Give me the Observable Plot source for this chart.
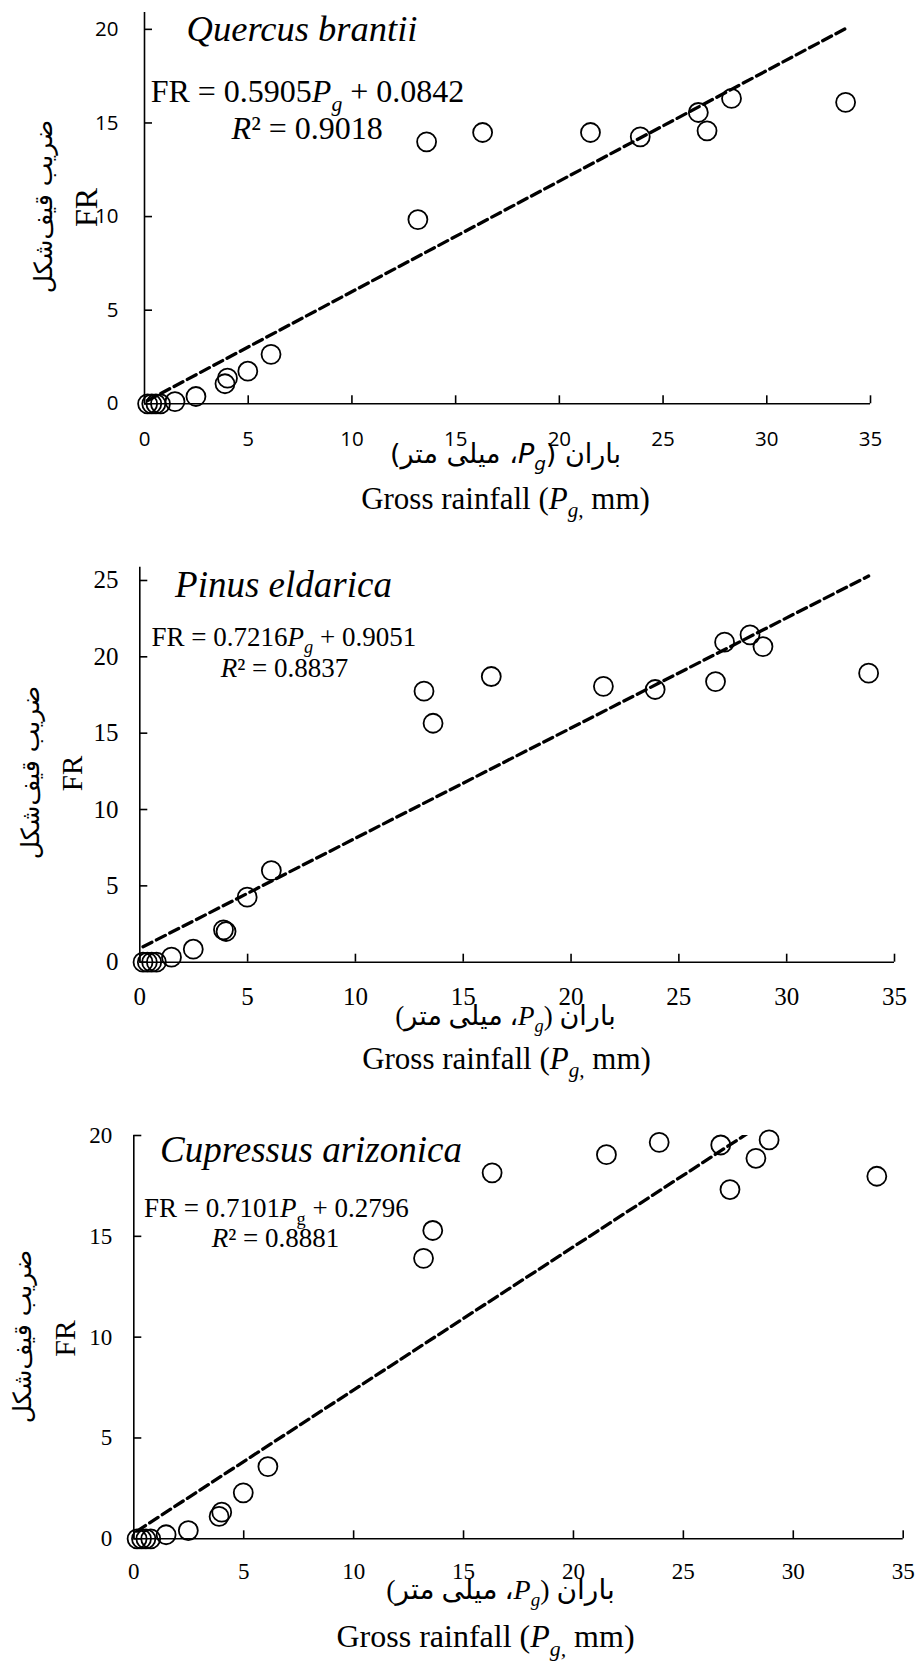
<!DOCTYPE html>
<html><head><meta charset="utf-8">
<script src="https://cdn.jsdelivr.net/npm/d3@7"></script>
<script src="https://cdn.jsdelivr.net/npm/@observablehq/plot@0.6"></script>
<style>
html,body{margin:0;padding:0;background:#fff;}
#wrap{position:relative;width:917px;height:1666px;overflow:hidden;}
#wrap svg{position:absolute;left:0;}
</style></head>
<body><div id="wrap"></div>
<script>
// ---- data ----
const rainfall = [0.15, 0.35, 0.55, 0.77, 1.47, 2.48, 3.88, 4.0, 4.98, 6.1, 13.18, 13.6, 16.3, 21.5, 23.9, 26.7, 27.12, 28.3, 28.9, 33.8];
const quercusFR = [0, 0, 0, 0, 0.12, 0.39, 1.07, 1.37, 1.74, 2.64, 9.84, 13.99, 14.49, 14.49, 14.26, 15.56, 14.58, 16.31, null, 16.1];
const pinusFR = [0, 0, 0, 0, 0.33, 0.85, 2.12, 2.01, 4.26, 6.0, 17.75, 15.65, 18.71, 18.07, 17.86, 18.38, 20.96, 21.44, 20.67, 18.93];
const cupressusFR = [0, 0, 0, 0, 0.2, 0.41, 1.11, 1.32, 2.28, 3.58, 13.91, 15.29, 18.15, 19.05, 19.66, 19.53, 17.32, 18.87, 19.78, 17.98];
const species = ["Quercus brantii", "Pinus eldarica", "Cupressus arizonica"];
const slopes = [0.5905, 0.7216, 0.7101];
const intercepts = [0.0842, 0.9051, 0.2796];
const r2Values = ["0.9018", "0.8837", "0.8881"];
const xTicks = [0, 5, 10, 15, 20, 25, 30, 35];
const yTicksQ = [0, 5, 10, 15, 20];
const yTicksP = [0, 5, 10, 15, 20, 25];
const yTicksC = [0, 5, 10, 15, 20];
const yLabelFa = "ضریب قیف‌شکل";
const yLabelEn = "FR";
const xLabelFa = "باران (<i>P</i><is>g</is>، میلی متر)";
const xLabelEn = "Gross rainfall (<i>P</i><is>g,</is> mm)";

// ---- fonts ----
const serif = "'Liberation Serif','Times New Roman',serif";
const sans = "'Open Sans','Liberation Sans',sans-serif";
const faSans = "'DejaVu Sans',sans-serif";
const faSerif = "'Liberation Serif','DejaVu Sans',serif";

// ---- layout ----
const panels = [
  {fr: quercusFR, yTicks: yTicksQ, top: 0, height: 530, ml: 144, mr: 47, mt: 12, mb: 126.7, yMax: 20.9,
   tickFont: sans, tickFs: 20.5, xPad: 35.3, yPad: 34, subG: "is",
   title: [301.5, 40.7, 36.5], eq: [307, 101.7, 32], r2: [306.7, 138],
   faY: [43, 206, 25], enY: [86, 207, 32], faX: [505, 462, 27, faSans], enX: [505, 508, 31]},
  {fr: pinusFR, yTicks: yTicksP, top: 530, height: 545, ml: 139.3, mr: 23, mt: 36.7, mb: 113.3, yMax: 25.87,
   tickFont: serif, tickFs: 25, xPad: 33, yPad: 29.3, subG: "is",
   title: [283, 66.7, 37], eq: [283.3, 115, 27], r2: [284, 146.7],
   faY: [30, 242, 25], enY: [72, 243, 29], faX: [505, 494, 27, faSerif], enX: [506, 538, 31]},
  {fr: cupressusFR, yTicks: yTicksC, top: 1075, height: 591, ml: 133.3, mr: 14.3, mt: 60, mb: 127.7, yMax: 20,
   tickFont: serif, tickFs: 23, xPad: 31.4, yPad: 29.6, subG: "s",
   title: [310.5, 86.7, 37], eq: [275.8, 141.7, 27], r2: [275, 171.7],
   faY: [22, 261, 25], enY: [65, 263, 30], faX: [500, 523, 28, faSerif], enX: [485, 571, 32]}
];

function richify(svg) {
  svg.querySelectorAll("text").forEach(t => {
    const s = t.textContent;
    if (!s.includes("<")) return;
    const fs = parseFloat(getComputedStyle(t).fontSize);
    const sh = fs * 0.28;
    while (t.firstChild) t.removeChild(t.firstChild);
    const re = /<(is|i|s)>(.*?)<\/\1>|([^<]+)/g;
    let m, shifted = false;
    while ((m = re.exec(s))) {
      const ts = document.createElementNS("http://www.w3.org/2000/svg", "tspan");
      const tag = m[1];
      ts.textContent = m[3] !== undefined ? m[3] : m[2];
      if (tag && tag.includes("i")) ts.setAttribute("font-style", "italic");
      const sub = tag === "s" || tag === "is";
      if (sub) ts.setAttribute("font-size", (fs * 0.68).toFixed(1));
      if (sub && !shifted) { ts.setAttribute("dy", sh.toFixed(1)); shifted = true; }
      else if (!sub && shifted) { ts.setAttribute("dy", (-sh).toFixed(1)); shifted = false; }
      t.appendChild(ts);
    }
  });
}

const wrap = document.getElementById("wrap");
panels.forEach((cfg, k) => {
  const pts = rainfall.map((x, i) => ({x, y: cfg.fr[i]})).filter(d => d.y != null);
  const ext = d3.extent(rainfall);
  const fit = ext.map(x => ({x, y: slopes[k] * x + intercepts[k]}));
  const at = (x, y) => ({frameAnchor: "top-left", dx: x - cfg.ml, dy: y - cfg.mt});
  const eqText = `FR = ${slopes[k]}<i>P</i><${cfg.subG}>g</${cfg.subG}> + ${intercepts[k]}`;
  const r2Text = `<i>R</i>² = ${r2Values[k]}`;
  const plot = Plot.plot({
    width: 917, height: cfg.height,
    marginLeft: cfg.ml, marginRight: cfg.mr, marginTop: cfg.mt, marginBottom: cfg.mb,
    x: {domain: [0, 35]},
    y: {domain: [0, cfg.yMax]},
    style: {background: "transparent", color: "#000", overflow: "visible"},
    marks: [
      Plot.ruleY([0], {stroke: "#000", strokeWidth: 1.6}),
      Plot.ruleX([0], {stroke: "#000", strokeWidth: 1.6}),
      Plot.axisX(xTicks, {tickSize: -8, tickPadding: cfg.xPad, strokeWidth: 1.6, label: null,
        fontSize: cfg.tickFs, fontFamily: cfg.tickFont}),
      Plot.axisY(cfg.yTicks, {tickSize: -8, tickPadding: cfg.yPad, strokeWidth: 1.6, label: null,
        fontSize: cfg.tickFs, fontFamily: cfg.tickFont}),
      Plot.line(fit, {x: "x", y: "y", stroke: "#000", strokeWidth: 3.3, strokeDasharray: "10,5", clip: true}),
      Plot.dot(pts, {x: "x", y: "y", r: 9.5, stroke: "#000", strokeWidth: 1.8, fill: "none"}),
      Plot.text([species[k]], {...at(cfg.title[0], cfg.title[1]), text: d => d, textAnchor: "middle", lineAnchor: "bottom",
        fontSize: cfg.title[2], fontStyle: "italic", fontFamily: serif, fill: "#000"}),
      Plot.text([eqText], {...at(cfg.eq[0], cfg.eq[1]), text: d => d, textAnchor: "middle", lineAnchor: "bottom",
        fontSize: cfg.eq[2], fontFamily: serif, fill: "#000"}),
      Plot.text([r2Text], {...at(cfg.r2[0], cfg.r2[1]), text: d => d, textAnchor: "middle", lineAnchor: "bottom",
        fontSize: cfg.eq[2], fontFamily: serif, fill: "#000"}),
      Plot.text([yLabelFa], {...at(cfg.faY[0], cfg.faY[1]), text: d => d, textAnchor: "middle", lineAnchor: "middle",
        rotate: -90, fontSize: cfg.faY[2], fontFamily: faSans, fill: "#000"}),
      Plot.text([yLabelEn], {...at(cfg.enY[0], cfg.enY[1]), text: d => d, textAnchor: "middle", lineAnchor: "middle",
        rotate: -90, fontSize: cfg.enY[2], fontFamily: serif, fill: "#000"}),
      Plot.text([xLabelFa], {...at(cfg.faX[0], cfg.faX[1]), text: d => d, textAnchor: "middle", lineAnchor: "bottom",
        fontSize: cfg.faX[2], fontFamily: cfg.faX[3], fill: "#000"}),
      Plot.text([xLabelEn], {...at(cfg.enX[0], cfg.enX[1]), text: d => d, textAnchor: "middle", lineAnchor: "bottom",
        fontSize: cfg.enX[2], fontFamily: serif, fill: "#000"})
    ]
  });
  plot.style.top = cfg.top + "px";
  wrap.appendChild(plot);
  richify(plot);
  plot.querySelectorAll("text").forEach(t => {
    if (/[\u0600-\u06FF]/.test(t.textContent)) t.setAttribute("direction", "rtl");
  });
});
</script>
</body></html>
